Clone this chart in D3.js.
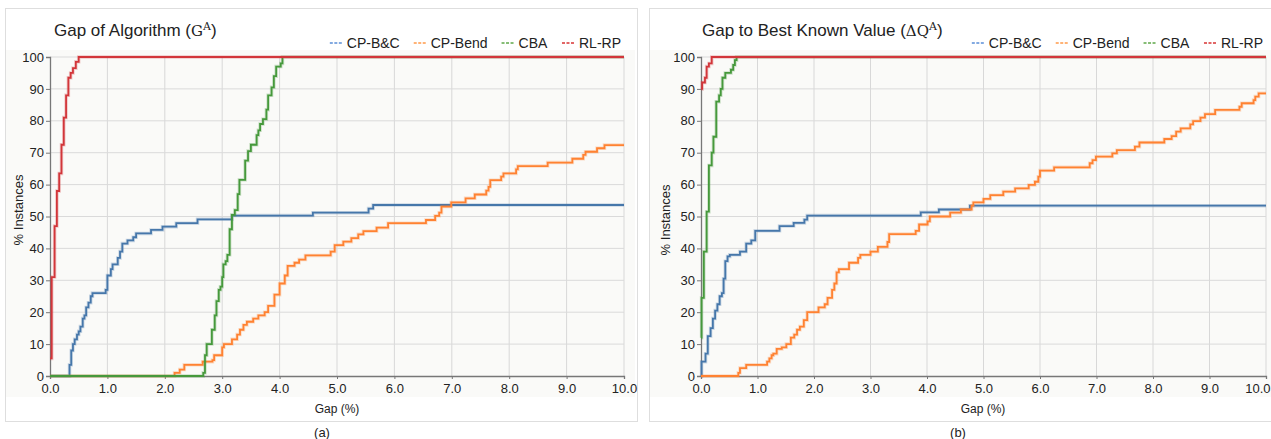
<!DOCTYPE html>
<html>
<head>
<meta charset="utf-8">
<script src="https://cdn.jsdelivr.net/npm/d3@7"></script>
<style>
  body { margin: 0; background: #fff; }
  svg { display: block; }
</style>
</head>
<body>
<div id="chart"></div>
<script>
var seriesNames = ["CP-B&C", "CP-Bend", "CBA", "RL-RP"];
var seriesColors = ["#4677aa", "#ff8232", "#46993c", "#d2363a"];
var legendColors = ["#5b8ed8", "#ff9a4a", "#5fa84a", "#d83434"];
var xTicks = [0, 1, 2, 3, 4, 5, 6, 7, 8, 9, 10];
var yTicks = [0, 10, 20, 30, 40, 50, 60, 70, 80, 90, 100];

// (a) gap of algorithm, step points [gap %, % instances]
var gapBC = [[0,0],[0.34,3.5],[0.37,8],[0.4,10],[0.43,11.5],[0.47,13],[0.5,14],[0.53,15.5],[0.57,18],[0.6,19],[0.63,21.5],[0.67,23],[0.71,25],[0.74,26],[0.97,27],[1.0,31.5],[1.06,33.5],[1.09,35],[1.18,37],[1.22,39],[1.26,41.5],[1.35,42.5],[1.45,43.5],[1.5,44.7],[1.76,45.8],[1.96,46.8],[2.2,47.9],[2.57,49.1],[3.17,50.3],[4.58,51.2],[5.55,52.5],[5.63,53.6],[10,53.6]];
var gapBend = [[0,0],[2.17,1],[2.26,2],[2.34,3.5],[2.66,4.5],[2.83,5],[2.86,6.5],[3.0,9],[3.03,10],[3.17,11.5],[3.26,13],[3.31,14.5],[3.37,16],[3.43,17],[3.54,18],[3.63,19],[3.74,20],[3.8,22],[3.91,25.5],[4.0,29],[4.09,31.5],[4.14,34.5],[4.26,35.5],[4.34,36.5],[4.45,37.8],[4.89,39],[4.96,41],[5.11,42.1],[5.25,43.2],[5.37,44.4],[5.46,45.4],[5.69,46.5],[5.89,47.9],[6.55,48.9],[6.71,50.2],[6.78,51.2],[6.82,53.1],[6.99,54.4],[7.24,55.7],[7.4,56.9],[7.6,58.1],[7.64,59.3],[7.67,61.4],[7.86,62.5],[7.9,63.5],[8.12,64.8],[8.15,65.8],[8.67,66.9],[9.1,68.1],[9.29,69.3],[9.33,70.3],[9.53,71.4],[9.66,72.4],[10,72.4]];
var gapCBA = [[0,0],[2.67,1],[2.7,6.5],[2.73,10],[2.82,14.5],[2.87,19],[2.9,23.5],[2.94,27],[2.97,28],[3.0,31],[3.02,35],[3.06,36],[3.09,38],[3.13,46],[3.17,50.5],[3.22,52],[3.27,57],[3.3,61.5],[3.4,67.5],[3.45,70.5],[3.5,72.5],[3.6,75.5],[3.63,77],[3.66,79],[3.71,80.5],[3.77,83.5],[3.8,88],[3.86,90.5],[3.9,94],[3.94,97],[4.02,98],[4.05,100],[10,100]];
var gapRL = [[0,5.5],[0.03,31],[0.08,47],[0.12,58],[0.16,63.5],[0.2,72.5],[0.24,81],[0.28,88],[0.32,93.5],[0.36,95],[0.4,96.5],[0.45,98.5],[0.5,100],[10,100]];

// (b) gap to best known value
var bkvBC = [[0,0],[0.01,4.5],[0.08,7],[0.12,12.5],[0.17,15],[0.21,18],[0.25,20.5],[0.29,22.5],[0.33,25],[0.37,26],[0.4,30.5],[0.43,36],[0.47,37.5],[0.51,38],[0.69,39],[0.8,41.5],[0.89,42.5],[0.96,45.5],[1.39,47],[1.64,48],[1.83,49],[1.88,50.3],[3.89,51.3],[4.21,52.2],[4.76,53.4],[10,53.4]];
var bkvBend = [[0,0],[0.66,1],[0.69,2.5],[0.8,3.5],[1.17,4.5],[1.21,5.5],[1.25,6.5],[1.28,7],[1.34,8.5],[1.43,9],[1.51,10],[1.59,12],[1.65,13],[1.7,14.5],[1.75,15.5],[1.82,17.5],[1.88,20],[2.08,21.5],[2.19,22.5],[2.24,24.5],[2.32,27],[2.36,29],[2.4,32.5],[2.44,33.5],[2.62,35.5],[2.78,37],[2.82,38],[3.0,39],[3.13,40.5],[3.3,42],[3.33,44.5],[3.8,45.5],[3.86,47.5],[4.01,48.5],[4.05,50],[4.41,51.2],[4.6,52.2],[4.79,53.4],[4.82,54.4],[5.0,55.5],[5.12,56.7],[5.35,57.8],[5.56,58.8],[5.8,59.9],[5.91,60.9],[5.97,62.5],[6.0,64.4],[6.25,65.4],[6.88,66.7],[6.93,67.7],[6.99,68.8],[7.28,69.8],[7.36,70.8],[7.68,71.9],[7.76,73.2],[8.2,74.3],[8.33,75.2],[8.41,76.6],[8.49,77.6],[8.66,78.9],[8.71,79.9],[8.84,81],[8.92,82.1],[9.1,83.4],[9.53,84.4],[9.57,85.5],[9.78,86.5],[9.81,87.6],[9.87,88.6],[10,88.6]];
var bkvCBA = [[0,12],[0.01,24.5],[0.05,39],[0.1,51.5],[0.14,66],[0.19,70],[0.22,75],[0.27,86],[0.32,88],[0.35,90],[0.38,93.5],[0.43,95],[0.53,96],[0.57,97.5],[0.6,99],[0.63,100],[10,100]];
var bkvRL = [[0,90],[0.02,92],[0.07,93.5],[0.1,97],[0.14,98],[0.19,100],[10,100]];

var svg = d3.select("#chart").append("svg")
  .attr("width", 1271)
  .attr("height", 439);

drawPanel({
  frame: [5, 8, 632, 413],
  plot: [50, 624, 57, 376],
  title: ["Gap of Algorithm (", "G", "A", ")"],
  titleX: 54,
  yLabelX: 18, yLabelY: 210,
  xLabelX: 337,
  caption: "(a)", captionX: 322,
  series: [gapBC, gapBend, gapCBA, gapRL]
});
drawPanel({
  frame: [649, 8, 640, 413],
  plot: [701, 1266, 57, 376],
  title: ["Gap to Best Known Value (", "\u0394Q", "A", ")"],
  titleX: 702,
  yLabelX: 665, yLabelY: 220,
  xLabelX: 983,
  caption: "(b)", captionX: 958,
  series: [bkvBC, bkvBend, bkvCBA, bkvRL]
});

function drawPanel(p) {
  var g = svg.append("g");
  g.append("rect")
    .attr("x", p.frame[0] + 0.5).attr("y", p.frame[1] + 0.5)
    .attr("width", p.frame[2]).attr("height", p.frame[3])
    .attr("fill", "#fff")
    .attr("stroke", "#dedede");
  g.append("rect")
    .attr("x", p.frame[0] + 1).attr("y", 50)
    .attr("width", p.frame[2] - 3).attr("height", 347)
    .attr("fill", "#fafaf8");

  var x = d3.scaleLinear().domain([0, 10]).range([p.plot[0], p.plot[1]]);
  var y = d3.scaleLinear().domain([0, 100]).range([p.plot[3], p.plot[2]]);

  // grid
  g.append("g").selectAll("line").data(xTicks.slice(1)).enter().append("line")
    .attr("x1", function(d){ return x(d); }).attr("x2", function(d){ return x(d); })
    .attr("y1", y(0)).attr("y2", y(100))
    .attr("stroke", "#d8d8d8");
  g.append("g").selectAll("line").data(yTicks.slice(1)).enter().append("line")
    .attr("x1", x(0)).attr("x2", x(10))
    .attr("y1", function(d){ return y(d); }).attr("y2", function(d){ return y(d); })
    .attr("stroke", "#dadada");

  var xAxis = g.append("g")
    .attr("transform", "translate(0," + y(0) + ")")
    .call(d3.axisBottom(x).tickValues(xTicks).tickSize(3).tickFormat(d3.format(".1f")));
  var yAxis = g.append("g")
    .attr("transform", "translate(" + x(0) + ",0)")
    .call(d3.axisLeft(y).tickValues(yTicks).tickSize(4).tickPadding(2));
  [xAxis, yAxis].forEach(function(a) {
    a.select(".domain").attr("stroke", "#777").attr("stroke-width", 1.3);
    a.selectAll(".tick line").attr("stroke", "#777");
    a.selectAll("text")
      .attr("fill", "#222")
      .style("font-family", "Liberation Sans, Arial, sans-serif")
      .style("font-size", "13px");
  });
  xAxis.selectAll("text").attr("dy", "0.85em");
  // keep the last tick label inside the window
  xAxis.selectAll(".tick text").each(function() {
    var b = this.getBBox();
    var right = x(10) + b.x + b.width;
    if (b.x + b.width + x(10) > 1270 && d3.select(this).text() === "10.0") {
      d3.select(this).attr("dx", 1270 - right);
    }
  });

  var line = d3.line()
    .x(function(d){ return x(d[0]); })
    .y(function(d){ return y(d[1]); })
    .curve(d3.curveStepAfter);

  p.series.forEach(function(s, i) {
    g.append("path")
      .datum(s)
      .attr("d", line)
      .attr("fill", "none")
      .attr("stroke", seriesColors[i])
      .attr("stroke-opacity", 0.25)
      .attr("stroke-width", 3.5);
    g.append("path")
      .datum(s)
      .attr("d", line)
      .attr("fill", "none")
      .attr("stroke", seriesColors[i])
      .attr("stroke-width", 1.8);
  });

  var title = g.append("text")
    .attr("x", p.titleX).attr("y", 36)
    .attr("fill", "#222")
    .style("font-family", "Liberation Sans Narrow, Arial Narrow, sans-serif")
    .style("font-size", "17px");
  title.append("tspan").text(p.title[0]);
  title.append("tspan").text(p.title[1])
    .style("font-family", "DejaVu Serif, serif").style("font-size", "15px");
  title.append("tspan").text(p.title[2])
    .attr("dy", -6).style("font-size", "11px")
    .style("font-family", "DejaVu Serif, serif");
  title.append("tspan").text(p.title[3]).attr("dy", 6);

  // legend, right aligned to the plot
  var leg = g.append("g");
  var items = leg.selectAll("g").data(seriesNames).enter().append("g");
  items.append("line")
    .attr("x1", 0).attr("x2", 13).attr("y1", 0).attr("y2", 0)
    .attr("stroke", function(d, i){ return legendColors[i]; })
    .attr("stroke-width", 1.5)
    .attr("stroke-dasharray", "3,1.5");
  items.append("text")
    .attr("x", 17).attr("y", 5)
    .attr("fill", "#222")
    .style("font-family", "Liberation Sans Narrow, Arial Narrow, sans-serif")
    .style("font-size", "14px")
    .text(function(d){ return d; });
  var widths = [];
  items.each(function() { widths.push(this.getBBox().width); });
  var total = d3.sum(widths) + 14 * (widths.length - 1);
  var cx = p.plot[1] - 3 - total;
  items.attr("transform", function(d, i) {
    var t = "translate(" + cx + ",43)";
    cx += widths[i] + 14;
    return t;
  });

  g.append("text")
    .attr("transform", "translate(" + p.yLabelX + "," + p.yLabelY + ") rotate(-90)")
    .attr("text-anchor", "middle")
    .attr("dy", "0.35em")
    .attr("fill", "#222")
    .style("font-family", "Liberation Sans, Arial, sans-serif")
    .style("font-size", "13px")
    .text("% Instances");

  g.append("text")
    .attr("x", p.xLabelX).attr("y", 413)
    .attr("text-anchor", "middle")
    .attr("fill", "#222")
    .style("font-family", "Liberation Sans Narrow, Arial Narrow, sans-serif")
    .style("font-size", "12px")
    .text("Gap (%)");

  svg.append("text")
    .attr("x", p.captionX).attr("y", 437)
    .attr("text-anchor", "middle")
    .attr("fill", "#222")
    .style("font-family", "Liberation Sans Narrow, Arial Narrow, sans-serif")
    .style("font-size", "13px")
    .text(p.caption);
}
</script>
</body>
</html>
